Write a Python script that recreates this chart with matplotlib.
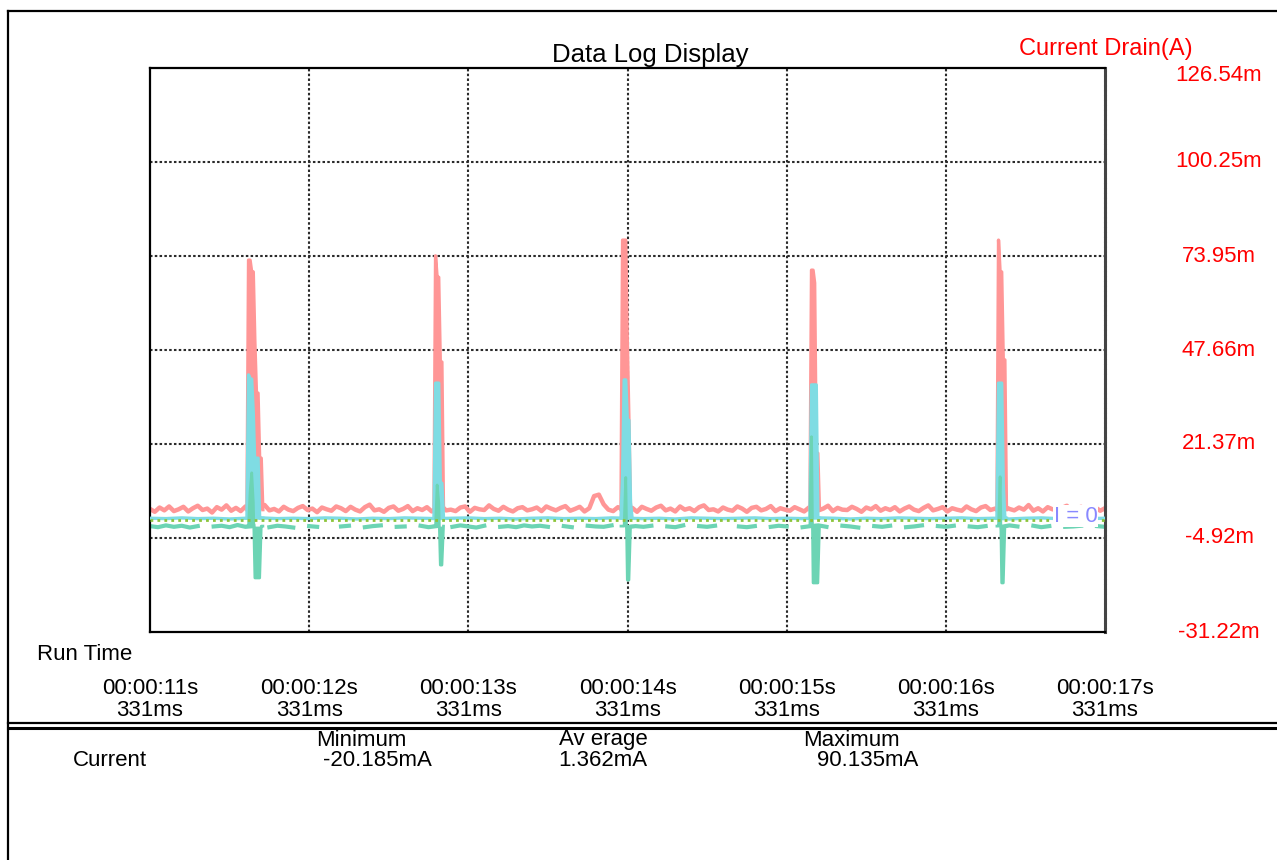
import numpy as np
import matplotlib
matplotlib.use("Agg")
import matplotlib.pyplot as plt
from matplotlib.lines import Line2D
from matplotlib.transforms import blended_transform_factory

plt.rcParams['font.family'] = ['Liberation Sans', 'DejaVu Sans']

# axis range (seconds / amps in mA)
t_start, t_end = 11.331, 17.331
y_min, y_max = -31.22, 126.54
y_grid = [-4.92, 21.37, 47.66, 73.95, 100.25]
y_labels = ["-31.22m", "-4.92m", "21.37m", "47.66m", "73.95m", "100.25m", "126.54m"]
time_labels = ["00:00:11s", "00:00:12s", "00:00:13s", "00:00:14s",
               "00:00:15s", "00:00:16s", "00:00:17s"]

nan = float("nan")

# baseline traces (mA)
drain_base = [
    3.2, 2.4, 3.6, 2.8, 3.9, 2.6, 3.1, 3.8, 2.5, 3.4, 4.1, 2.9, 3.3, 2.2, 3.7, 3.0, 4.2, 2.7, 3.5, 2.6,
    3.9, 3.1, 2.4, 3.6, 4.3, 2.8, 3.2, 2.5, 3.8, 3.0, 2.6, 3.5, 4.0, 2.9, 3.3, 2.3, 3.6, 3.1, 2.7, 3.9,
    3.4, 2.6, 3.8, 3.0, 2.5, 3.7, 4.4, 2.8, 3.1, 2.4, 3.5, 3.9, 2.7, 3.2, 4.0, 2.6, 3.4, 2.9, 3.7, 2.5,
    3.3, 4.1, 2.8, 3.0, 2.6, 3.6, 3.9, 2.4, 3.5, 3.1, 2.9, 4.2, 3.2, 2.7, 3.8, 3.0, 2.5, 3.4, 3.7, 2.8,
    3.1, 3.6, 2.6, 3.9, 3.3, 2.8, 3.5, 4.0, 2.7, 3.2, 3.8, 2.5, 3.4, 6.8, 7.2, 4.5, 3.0, 2.6, 3.7, 3.1,
    2.9, 3.5, 2.4, 3.8, 3.2, 2.7, 3.6, 4.1, 2.8, 3.3, 2.5, 3.9, 3.0, 3.4, 2.6, 3.7, 4.2, 2.9, 3.1, 2.5,
    3.6, 3.0, 2.7, 3.9, 3.3, 2.4, 3.5, 3.8, 2.8, 3.2, 4.0, 2.6, 3.4, 3.0, 2.7, 3.7, 3.1, 2.5, 3.6, 3.9,
    2.8, 3.3, 4.1, 2.6, 3.5, 3.0, 2.9, 3.8, 3.2, 2.4, 3.6, 3.1, 4.0, 2.7, 3.4, 2.9, 3.7, 2.5, 3.3, 3.9,
    3.0, 2.6, 3.5, 4.2, 2.8, 3.2, 3.7, 2.5, 3.4, 3.0, 2.7, 3.9, 3.1, 2.6, 3.6, 4.0, 2.9, 3.3, 2.4, 3.8,
    3.2, 2.8, 3.6, 3.0, 4.3, 2.7, 3.4, 2.5, 3.7, 3.1, 2.9, 3.5, 4.1, 2.6, 3.3, 3.8, 2.8, 3.0, 3.6, 2.7,
    3.4,
]
# nan = sample hidden behind the cyan trace
teal_base = [
    -1.6, -1.9, -1.4, -1.8, -1.5, -2.0, -1.6, nan, -1.7, -1.5, -1.9, -1.3, -1.8, -1.6, nan, -1.9, -1.5, -1.7, -2.0, nan,
    -1.6, -1.8, nan, nan, -1.7, -1.5, nan, -1.9, -1.6, -1.4, nan, -1.8, -1.7, nan, -1.5, -1.9, -1.6, nan, -1.8, -1.4,
    -1.7, -2.0, -1.5, nan, -1.8, -1.6, -1.9, -1.4, -1.7, -1.5, -1.8, nan, -1.6, -1.9, nan, -1.5, -1.7, -1.8, -1.4, nan,
    -1.9, -1.6, -1.8, -1.5, nan, -1.7, -1.9, -1.4, nan, -1.6, -1.8, -1.5, nan, nan, -1.7, -1.9, -1.6, nan, -1.8, -1.5,
    -1.7, nan, -1.9, -1.6, -1.4, -1.8, nan, -1.5, -1.7, -2.0, nan, -1.6, -1.8, -1.5, nan, -1.9, -1.7, -1.4, nan, -1.6,
    -1.8, -1.5, nan, -1.7, -1.9, -1.6, nan, -1.8, -1.4, -1.7, nan, -1.5, -1.9, -1.6, nan, -1.8, -1.7, -1.5, nan, -1.6, -1.8,
]
cyan_base = [
    0.6, 0.5, 0.7, 0.5, 0.6, 0.4, 0.6, 0.7, 0.5, 0.6, 0.5, 0.7, 0.6, 0.4, 0.6, 0.5, 0.7, 0.6, 0.5, 0.6,
    0.7, 0.5, 0.6, 0.4, 0.6, 0.7, 0.5, 0.6, 0.5, 0.7, 0.6, 0.5, 0.6, 0.4, 0.7, 0.6, 0.5, 0.6, 0.7, 0.5,
    0.6, 0.5, 0.7, 0.6, 0.4, 0.6, 0.5, 0.7, 0.6, 0.5, 0.6, 0.7, 0.5, 0.6, 0.4, 0.6, 0.7, 0.5, 0.6, 0.5,
    0.6,
]

# the five current bursts, sampled every 10 ms from their start
spike_step = 0.01
spike_starts = [11.940, 13.115, 14.290, 15.477, 16.652]
drain_spikes = [
    [3.0, 72.8, 72.8, 69.5, 69.5, 50.0, 35.6, 35.6, 17.4, 17.4, 3.0],
    [3.0, 74.0, 68.0, 68.0, 44.3, 44.3, 3.0],
    [3.0, 78.4, 78.4, 78.4, 50.0, 28.1, 3.0, 3.0],
    [3.0, 70.0, 70.0, 66.4, 18.8, 18.8, 3.0],
    [3.0, 78.4, 69.5, 69.5, 44.9, 44.9, 3.0],
]
cyan_spikes = [
    [0.6, 40.7, 39.5, 39.5, 30.0, 14.9, 17.4, 17.4, 0.6, 0.6, 0.6],
    [0.6, 38.4, 38.4, 38.4, 10.4, 10.4, 0.6],
    [0.6, 12.2, 39.3, 39.3, 28.0, 28.0, 5.0, 0.6],
    [0.6, 37.9, 37.9, 37.9, 37.9, 0.6, 0.6],
    [0.6, 38.4, 38.4, 38.4, 10.0, 0.6, 0.6],
]
teal_spikes = [
    [-1.6, -1.6, 8.0, 13.3, 5.0, -16.1, -16.1, -16.1, -16.1, -1.6, -1.6],
    [-1.6, -1.6, 9.9, 5.0, -12.5, -12.5, -1.6],
    [-1.6, -1.6, -1.6, 12.0, -16.7, -16.7, -1.6, -1.6],
    [-1.6, 23.4, -17.5, -17.5, -17.5, -17.5, -1.6],
    [-1.6, -1.6, 12.2, -17.5, -17.5, -1.6, -1.6],
]

stat_heads = ["Minimum", "Av erage", "Maximum"]
stat_values = ["-20.185mA", "1.362mA", "90.135mA"]

PINK = "#FF9696"
CYAN = "#7FDCE3"
TEAL = "#6CD4B4"
GREEN = "#8CC43A"
RED = "#FF0000"
FS = 16

W, H = 1277, 860
fig = plt.figure(figsize=(W / 100, H / 100), dpi=100)


def px(x, y):
    return x / W, 1 - y / H


# outer frame and panel separator
for (x0, y0), (x1, y1), lw in [((8, 11), (W, 11), 1.6), ((8, 11), (8, H), 1.6),
                                ((8, 723), (W, 723), 1.6), ((8, 728), (W, 728), 2.2)]:
    a, b = px(x0, y0)
    c, d = px(x1, y1)
    fig.add_artist(Line2D([a, c], [b, d], color="black", lw=lw))

l, t = px(150, 68)
r, bt = px(1105, 632)
ax = fig.add_axes([l, bt, r - l, t - bt])
ax.set_xlim(t_start, t_end)
ax.set_ylim(y_min, y_max)
ax.set_xticks([])
ax.set_yticks([])
for s in ["left", "top", "bottom"]:
    ax.spines[s].set_linewidth(1.6)
ax.spines["right"].set_linestyle((0, (1, 0.6)))
ax.spines["right"].set_linewidth(2.2)
ax.spines["right"].set_color("#444444")

x_ticks = [t_start + i for i in range(len(time_labels))]
grid_style = dict(color="#2a2a2a", lw=1.5, linestyle=(0, (1.2, 1.1)), zorder=1)
ax.vlines(x_ticks[1:-1], y_min, y_max, **grid_style)
ax.hlines(y_grid, t_start, t_end, **grid_style)

# traces
t_drain = np.linspace(t_start, t_end, len(drain_base))
t_teal = np.linspace(t_start, t_end, len(teal_base))
t_cyan = np.linspace(t_start, t_end, len(cyan_base))
ax.plot(t_drain, drain_base, color=PINK, lw=3.2, zorder=2)
ax.plot(t_teal, teal_base, color=TEAL, lw=3.0, zorder=2.5)
ax.plot(t_cyan, cyan_base, color=CYAN, lw=2.4, zorder=3)
for t0, dv, cv, tv in zip(spike_starts, drain_spikes, cyan_spikes, teal_spikes):
    for vals, col, lw, z in [(dv, PINK, 2.4, 3.2), (cv, CYAN, 2.4, 3.4), (tv, TEAL, 2.0, 3.6)]:
        ts = t0 + spike_step * np.arange(len(vals))
        ax.plot(ts, vals, color=col, lw=lw, zorder=z)
        ax.fill_between(ts, vals[0], vals, color=col, lw=0, zorder=z)
ax.axhline(0, color=GREEN, lw=2, linestyle=(0, (1, 1.5)), zorder=5)
ax.text(0.969, 1.2, "I = 0", transform=blended_transform_factory(ax.transAxes, ax.transData),
        ha="center", va="center", color="#8888FF", fontsize=FS, zorder=6,
        bbox=dict(facecolor="white", edgecolor="none", pad=0.3))

# right hand axis labels
ytr = blended_transform_factory(fig.transFigure, ax.transData)
y_vals = [y_min] + y_grid + [y_max - 2.0]
for v, lab in zip(y_vals, y_labels):
    ax.text(1219 / W, v, lab, transform=ytr, ha="center", va="center", color=RED,
            fontsize=FS, clip_on=False)
fig.text(1106 / W, 1 - 49 / H, "Current Drain(A)", ha="center", va="center", color=RED, fontsize=17)
fig.text(650 / W, 1 - 55 / H, "Data Log Display", ha="center", va="center", color="black", fontsize=18.5)

# run time labels
fig.text(37 / W, 1 - 655 / H, "Run Time", ha="left", va="center", fontsize=FS)
xtr = blended_transform_factory(ax.transData, fig.transFigure)
for x, lab in zip(x_ticks, time_labels):
    ax.text(x, 1 - 688 / H, lab, transform=xtr, ha="center", va="center", fontsize=FS, clip_on=False)
    ax.text(x, 1 - 711 / H, "331ms", transform=xtr, ha="center", va="center", fontsize=FS, clip_on=False)

# statistics panel
fig.text(110 / W, 1 - 761 / H, "Current", ha="center", va="center", fontsize=FS)
for xh, xv, head, val in zip([361, 603, 851], [377, 603, 868], stat_heads, stat_values):
    fig.text(xh / W, 1 - 740 / H, head, ha="center", va="center", fontsize=FS)
    fig.text(xv / W, 1 - 761 / H, val, ha="center", va="center", fontsize=FS)

fig.savefig("out.png", dpi=100)
